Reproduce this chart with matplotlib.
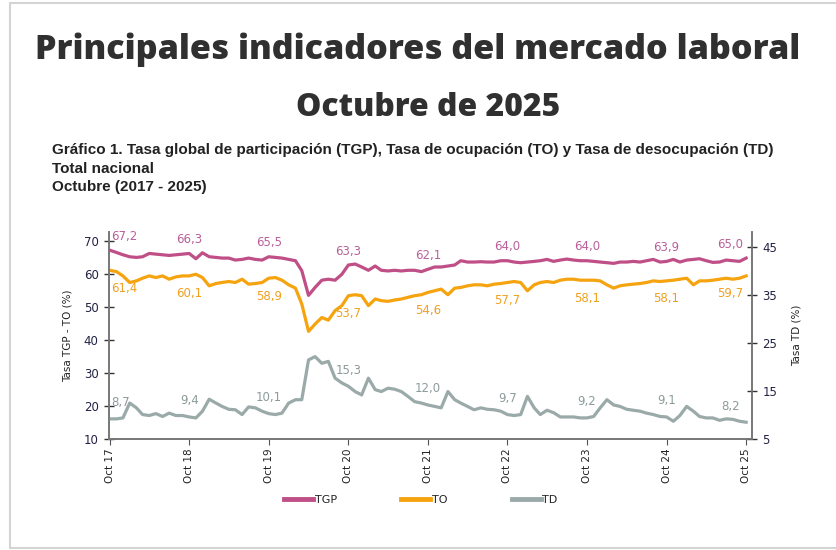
import numpy as np
import pandas as pd
import matplotlib
matplotlib.use('Agg')
import matplotlib.pyplot as plt
from matplotlib import font_manager
from matplotlib.patches import Rectangle

# Monthly series, Oct 2017 - Oct 2025
months = pd.date_range('2017-10-01', '2025-10-01', freq='MS')

tgp = [67.2, 66.5, 65.8, 65.2, 65.0, 65.2, 66.2, 66.0, 65.8, 65.6, 65.8, 66.0,
       66.2, 64.6, 66.4, 65.2, 65.0, 64.8, 64.8, 64.2, 64.4, 64.8, 64.4, 64.2,
       65.2, 65.0, 64.8, 64.4, 64.0, 61.0, 53.5, 55.9, 58.1, 58.4, 58.1, 59.9,
       62.7, 63.0, 62.1, 61.1, 62.4, 61.1, 60.9, 61.1, 60.9, 61.1, 61.1, 60.7,
       61.4, 62.1, 62.1, 62.4, 62.7, 64.0, 63.6, 63.6, 63.7, 63.6, 63.6, 64.0,
       64.0, 63.6, 63.4, 63.6, 63.8, 64.0, 64.4, 63.8, 64.2, 64.5, 64.2, 64.0,
       64.0, 63.8, 63.6, 63.4, 63.2, 63.6, 63.6, 63.8, 63.6, 64.0, 64.4, 63.6,
       63.8, 64.4, 63.6, 64.2, 64.4, 64.6, 64.0, 63.5, 63.6, 64.2, 64.0, 63.8, 64.8]

to = [61.1, 60.7, 59.4, 57.4, 57.9, 58.7, 59.4, 58.9, 59.4, 58.4, 59.1, 59.4,
      59.4, 59.9, 58.9, 56.4, 57.1, 57.4, 57.7, 57.4, 58.4, 56.9, 57.1, 57.4,
      58.7, 58.9, 58.1, 56.7, 55.7, 50.9, 42.6, 44.8, 46.8, 46.0, 48.9, 50.4,
      53.4, 53.7, 53.4, 50.4, 52.4, 51.9, 51.7, 52.1, 52.4, 52.9, 53.4, 53.7,
      54.4, 54.9, 55.4, 53.7, 55.7, 55.9, 56.4, 56.7, 56.7, 56.4, 56.9, 57.1,
      57.4, 57.7, 57.4, 54.9, 56.7, 57.4, 57.7, 57.4, 58.1, 58.4, 58.4, 58.1,
      58.1, 58.1, 57.9, 56.7, 55.7, 56.4, 56.7, 56.9, 57.1, 57.4, 57.9, 57.7,
      57.9, 58.1, 58.4, 58.7, 56.7, 57.9, 57.9, 58.1, 58.4, 58.7, 58.4, 58.7, 59.4]

td = [9.2, 9.2, 9.4, 12.5, 11.5, 10.1, 9.9, 10.3, 9.7, 10.4, 9.9, 9.9,
      9.6, 9.4, 10.8, 13.3, 12.5, 11.8, 11.2, 11.1, 10.1, 11.7, 11.5, 10.8,
      10.3, 10.1, 10.4, 12.5, 13.2, 13.2, 21.5, 22.2, 20.8, 21.2, 17.7, 16.7,
      16.0, 14.9, 14.2, 17.7, 15.3, 14.9, 15.6, 15.4, 14.9, 13.9, 12.8, 12.5,
      12.1, 11.8, 11.5, 14.9, 13.2, 12.5, 11.8, 11.1, 11.5, 11.2, 11.1, 10.8,
      10.1, 9.9, 10.1, 13.9, 11.5, 10.1, 11.0, 10.5, 9.6, 9.6, 9.6, 9.4,
      9.4, 9.7, 11.5, 13.2, 12.1, 11.8, 11.2, 11.0, 10.8, 10.4, 10.1, 9.7,
      9.6, 8.7, 9.9, 11.8, 10.8, 9.7, 9.4, 9.4, 8.9, 9.2, 9.1, 8.7, 8.5]

# October values written on the chart
tgp_oct = [67.2, 66.3, 65.5, 63.3, 62.1, 64.0, 64.0, 63.9, 65.0]
to_oct = [61.4, 60.1, 58.9, 53.7, 54.6, 57.7, 58.1, 58.1, 59.7]
td_oct = [8.7, 9.4, 10.1, 15.3, 12.0, 9.7, 9.2, 9.1, 8.2]
tick_labels = ['Oct 17', 'Oct 18', 'Oct 19', 'Oct 20', 'Oct 21',
               'Oct 22', 'Oct 23', 'Oct 24', 'Oct 25']

c_tgp = '#bf4f86'
c_to = '#f5a30f'
c_td = '#9aaaa8'
c_text = '#303030'

installed = {f.name for f in font_manager.fontManager.ttflist}
narrow = 'Liberation Sans Narrow' if 'Liberation Sans Narrow' in installed else 'Liberation Sans'

fig = plt.figure(figsize=(8.37, 5.5), dpi=100)
W, H = 837, 550

# card border
fig.patches.append(Rectangle((10 / W, 2 / H), 1.2, 545 / H, transform=fig.transFigure,
                             facecolor='white', edgecolor='#d4d4d4', lw=1.5, zorder=-1))


def fit_width(txt, target_px):
    r = fig.canvas.get_renderer()
    w = txt.get_window_extent(renderer=r).width
    txt.set_fontsize(txt.get_fontsize() * target_px / w)


t1 = fig.text(418 / W, 1 - 50 / H, 'Principales indicadores del mercado laboral',
              ha='center', va='center', fontsize=26, fontweight='heavy',
              family='Open Sans', color=c_text)
fit_width(t1, 765)
t2 = fig.text(428 / W, 1 - 108 / H, 'Octubre de 2025', ha='center', va='center',
              fontsize=24, fontweight='heavy', family='Open Sans', color=c_text)
fit_width(t2, 264)

cap = fig.text(52 / W, 1 - 150 / H,
               'Gráfico 1. Tasa global de participación (TGP), Tasa de ocupación (TO) '
               'y Tasa de desocupación (TD)',
               ha='left', va='center', fontsize=10, fontweight='bold',
               family=narrow, color='#222222')
fit_width(cap, 720)
fs_cap = cap.get_fontsize()
fig.text(52 / W, 1 - 169 / H, 'Total nacional', ha='left', va='center',
         fontsize=fs_cap, fontweight='bold', family=narrow, color='#222222')
fig.text(52 / W, 1 - 187 / H, 'Octubre (2017 - 2025)', ha='left', va='center',
         fontsize=fs_cap, fontweight='bold', family=narrow, color='#222222')

ax = fig.add_axes([109 / W, 1 - 439 / H, (752 - 109) / W, (439 - 232) / H])
ax2 = ax.twinx()

l1, = ax.plot(months, tgp, color=c_tgp, lw=2.3, label='TGP')
l2, = ax.plot(months, to, color=c_to, lw=2.3, label='TO')
l3, = ax2.plot(months, td, color=c_td, lw=2.3, label='TD')

ax.set_xlim(pd.Timestamp('2017-09-28'), pd.Timestamp('2025-10-28'))
ax.set_ylim(10, 72.7)
ax2.set_ylim(5, 48.2)
ax.set_yticks(np.arange(10, 71, 10))
ax2.set_yticks(np.arange(5, 46, 10))

octs = months[::12]
ax.set_xticks(octs)
ax.set_xticklabels(tick_labels, rotation=90, fontsize=7.5, color='#222222')
ax.tick_params(axis='x', length=4, width=0.8, color='#555555', pad=3)
ax.tick_params(axis='y', direction='inout', length=7, width=1, color='#333333',
               labelsize=8.5, labelcolor='#222244', pad=4)
ax2.tick_params(axis='y', direction='inout', length=7, width=1, color='#333333',
                labelsize=8.5, labelcolor='#222244', pad=4)

for a in (ax, ax2):
    a.spines['top'].set_visible(False)
    for s in ('left', 'right', 'bottom'):
        a.spines[s].set_color('#777777')
        a.spines[s].set_linewidth(1.2)

ax.set_ylabel('Tasa TGP - TO (%)', fontsize=7.5, color='#222222', labelpad=8)
ax2.set_ylabel('Tasa TD (%)', fontsize=7.5, color='#222222', labelpad=10)

# October labels next to each series
n = len(octs)
for k in range(n):
    dx = 15 if k == 0 else (-16 if k == n - 1 else 0)
    i = 12 * k
    ax.annotate(f'{tgp_oct[k]:.1f}'.replace('.', ','), (months[i], tgp[i]),
                xytext=(dx, 14), textcoords='offset pixels', ha='center', va='center',
                fontsize=8.5, color='#b9609a')
    ax.annotate(f'{to_oct[k]:.1f}'.replace('.', ','), (months[i], to[i]),
                xytext=(dx, -18), textcoords='offset pixels', ha='center', va='center',
                fontsize=8.5, color='#f0a020')
    ax2.annotate(f'{td_oct[k]:.1f}'.replace('.', ','), (months[i], td[i]),
                 xytext=(11 if k == 0 else dx, 16), textcoords='offset pixels',
                 ha='center', va='center', fontsize=8.5, color='#8c9b9a')

fig.legend(handles=[l1, l2, l3], loc='center', bbox_to_anchor=(421 / W, 1 - 500 / H),
           ncol=3, frameon=False, fontsize=8, handlelength=2.6, handletextpad=0.15,
           columnspacing=5.8, labelcolor='#222222')
for h in fig.legends[0].get_lines():
    h.set_linewidth(3.5)

fig.savefig('out.png', dpi=100)
